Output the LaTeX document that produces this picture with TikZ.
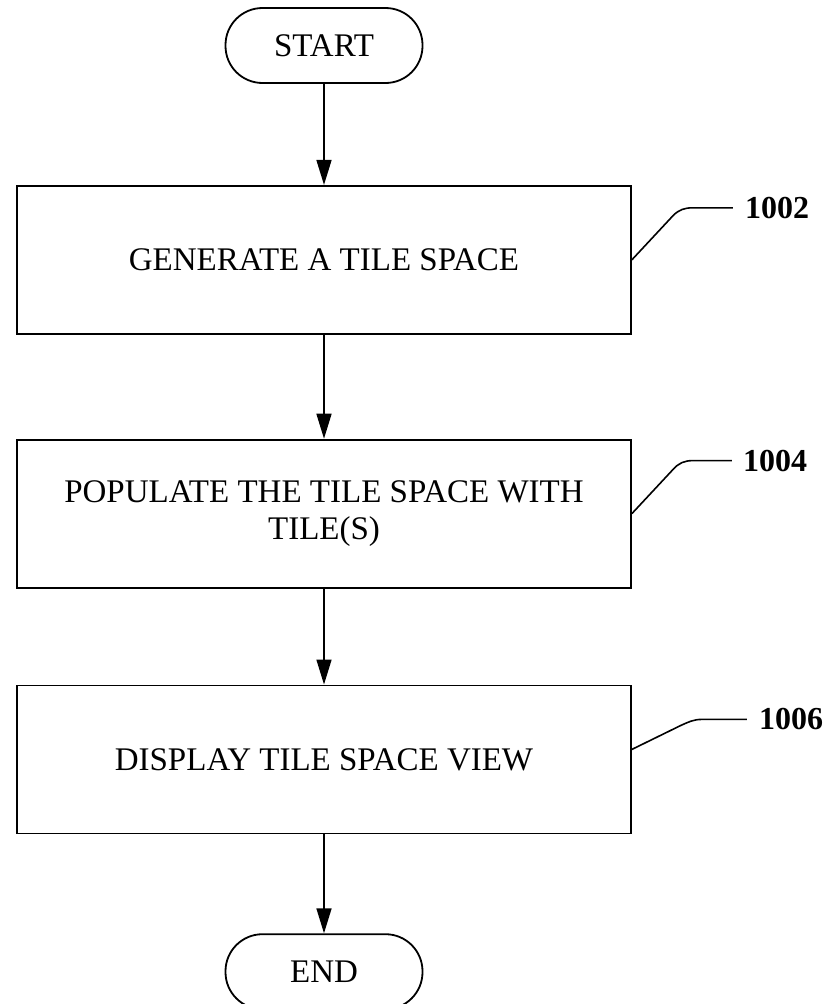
\documentclass[tikz,border=0pt]{standalone}
\usepackage{fontspec}
\setmainfont{Liberation Serif}
\usetikzlibrary{positioning,arrows.meta}
\tikzset{
  term/.style={draw, line width=1.8pt, rounded corners=37pt, minimum width=197pt, minimum height=75pt, font=\fontsize{33}{37}\selectfont},
  proc/.style={draw, line width=1.8pt, minimum width=614pt, minimum height=148pt, align=center, font=\fontsize{33}{37}\selectfont},
  flow/.style={line width=1.6pt, -{Triangle[length=25pt,width=15pt]}},
  lead/.style={line width=1.6pt},
  refnum/.style={font=\bfseries\fontsize{32}{37}\selectfont, anchor=west, inner sep=0pt}
}

\begin{document}
\begin{tikzpicture}[x=1pt,y=1pt]
	\useasboundingbox (0,0) rectangle (825,-1004);

	\node[term] (start) at (324,-45.5) {START};
	\node[proc, below=101pt of start] (gen) {GENERATE A TILE SPACE};
	\node[proc, below=104pt of gen] (pop) {POPULATE THE TILE SPACE WITH\\TILE(S)};
	\node[proc, below=96pt of pop] (disp) {DISPLAY TILE SPACE VIEW};
	\node[term, below=99pt of disp] (end) {END};

	\node[refnum] (n1002) at ([shift={(113,52)}]gen.east) {1002};
	\node[refnum] (n1004) at ([shift={(111,53)}]pop.east) {1004};
	\node[refnum] (n1006) at ([shift={(127,40)}]disp.east) {1006};

	\draw[flow] (start) -- (gen);
	\draw[flow] (gen) -- (pop);
	\draw[flow] (pop) -- (disp);
	\draw[flow] (disp) -- (end);

	\draw[lead] (gen.east) -- ([shift={(-72,-8)}]n1002.west) to[out=46,in=180] ([xshift=-52]n1002.west) -- ([xshift=-12]n1002.west);
	\draw[lead] (pop.east) -- ([shift={(-70,-9)}]n1004.west) to[out=49,in=180] ([xshift=-50]n1004.west) -- ([xshift=-11]n1004.west);
	\draw[lead] ([yshift=10]disp.east) -- ([shift={(-78,-6)}]n1006.west) to[out=24,in=180] ([xshift=-57]n1006.west) -- ([xshift=-12]n1006.west);
\end{tikzpicture}
\end{document}
